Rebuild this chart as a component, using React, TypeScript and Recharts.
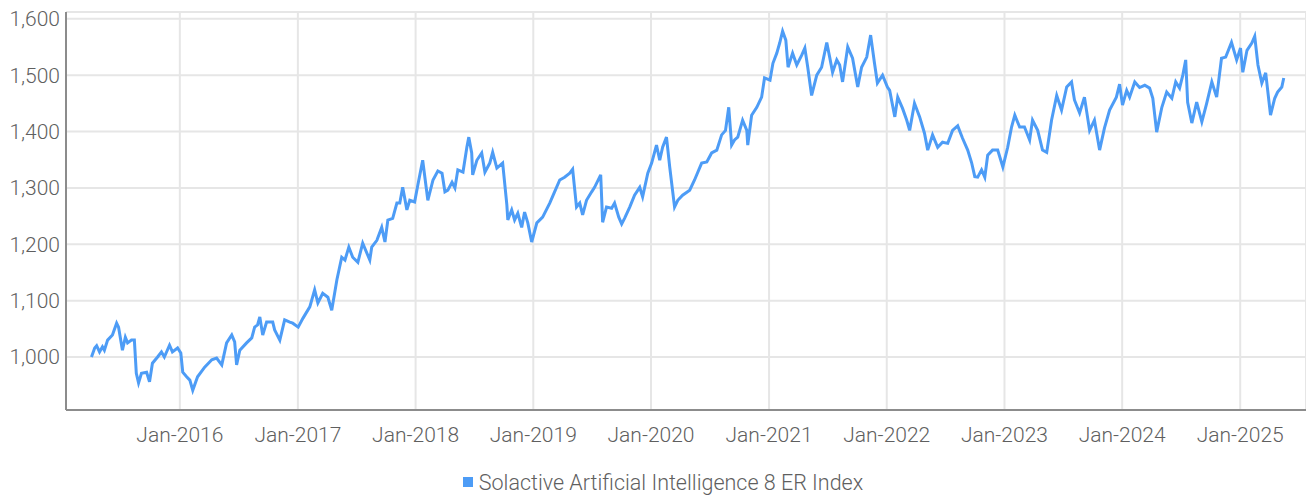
import { LineChart, Line, XAxis, YAxis, CartesianGrid, Legend } from "recharts";

const seriesName = "Solactive Artificial Intelligence 8 ER Index";

// index level, roughly two points a month
const dates = [
  "2015-04-02", "2015-04-12", "2015-04-18", "2015-04-27", "2015-05-06", "2015-05-12", "2015-05-22",
  "2015-06-06", "2015-06-19", "2015-06-25", "2015-07-07", "2015-07-16", "2015-07-23", "2015-08-04",
  "2015-08-13", "2015-08-19", "2015-08-26", "2015-09-04", "2015-09-20", "2015-09-29", "2015-10-08",
  "2015-10-24", "2015-11-05", "2015-11-14", "2015-11-30", "2015-12-09", "2015-12-25",
  "2016-01-04", "2016-01-10", "2016-01-22", "2016-02-01", "2016-02-10", "2016-02-25", "2016-03-18",
  "2016-04-09", "2016-04-24", "2016-05-10", "2016-05-25", "2016-06-10", "2016-06-19", "2016-06-25",
  "2016-07-05", "2016-07-26", "2016-08-11", "2016-08-20", "2016-08-29", "2016-09-05", "2016-09-14",
  "2016-09-26", "2016-10-15", "2016-10-21", "2016-11-06", "2016-11-21", "2016-12-07", "2016-12-16",
  "2017-01-02", "2017-01-17", "2017-02-07", "2017-02-22", "2017-03-04", "2017-03-19", "2017-04-04",
  "2017-04-16", "2017-05-02", "2017-05-17", "2017-05-27", "2017-06-08", "2017-06-20", "2017-07-06",
  "2017-07-21", "2017-08-12", "2017-08-18", "2017-09-03", "2017-09-18", "2017-09-28", "2017-10-07",
  "2017-10-22", "2017-11-04", "2017-11-13", "2017-11-22", "2017-12-05", "2017-12-14", "2017-12-29",
  "2018-01-08", "2018-01-23", "2018-02-08", "2018-02-24", "2018-03-11", "2018-03-24", "2018-04-02",
  "2018-04-11", "2018-04-24", "2018-05-03", "2018-05-12", "2018-05-28", "2018-06-09", "2018-06-15",
  "2018-06-24", "2018-06-27", "2018-07-10", "2018-07-25", "2018-08-04", "2018-08-19", "2018-08-28",
  "2018-09-10", "2018-09-28", "2018-10-11", "2018-10-14", "2018-10-26", "2018-11-04", "2018-11-14",
  "2018-11-26", "2018-12-05", "2018-12-15", "2018-12-27",
  "2019-01-12", "2019-01-30", "2019-02-21", "2019-03-08", "2019-03-24", "2019-04-08", "2019-04-24",
  "2019-05-03", "2019-05-15", "2019-05-25", "2019-06-03", "2019-06-15", "2019-07-01", "2019-07-10",
  "2019-07-29", "2019-08-04", "2019-08-16", "2019-09-01", "2019-09-10", "2019-09-23", "2019-10-02",
  "2019-10-11", "2019-10-27", "2019-11-11", "2019-11-27", "2019-12-06", "2019-12-22",
  "2020-01-03", "2020-01-18", "2020-01-28", "2020-02-06", "2020-02-18", "2020-02-28", "2020-03-14",
  "2020-03-24", "2020-04-08", "2020-04-30", "2020-05-15", "2020-06-06", "2020-06-22", "2020-07-07",
  "2020-07-23", "2020-08-07", "2020-08-19", "2020-08-29", "2020-09-07", "2020-09-16", "2020-09-26",
  "2020-10-11", "2020-10-24", "2020-10-27", "2020-11-08", "2020-11-24", "2020-12-09", "2020-12-18",
  "2021-01-04", "2021-01-13", "2021-01-25", "2021-02-03", "2021-02-12", "2021-02-22", "2021-03-01",
  "2021-03-15", "2021-03-28", "2021-04-12", "2021-04-22", "2021-05-01", "2021-05-13", "2021-05-29",
  "2021-06-13", "2021-06-29", "2021-07-08", "2021-07-17", "2021-07-30", "2021-08-08", "2021-08-17",
  "2021-09-02", "2021-09-17", "2021-10-03", "2021-10-15", "2021-10-31", "2021-11-12", "2021-11-24",
  "2021-12-03", "2021-12-19",
  "2022-01-03", "2022-01-10", "2022-01-26", "2022-02-04", "2022-02-19", "2022-03-04", "2022-03-13",
  "2022-03-28", "2022-04-13", "2022-04-28", "2022-05-08", "2022-05-23", "2022-06-08", "2022-06-23",
  "2022-07-09", "2022-07-24", "2022-08-09", "2022-08-24", "2022-09-09", "2022-09-21", "2022-10-01",
  "2022-10-10", "2022-10-22", "2022-11-01", "2022-11-10", "2022-11-25", "2022-12-11", "2022-12-27",
  "2023-01-11", "2023-01-23", "2023-02-02", "2023-02-17", "2023-03-04", "2023-03-20", "2023-03-29",
  "2023-04-14", "2023-04-29", "2023-05-12", "2023-05-27", "2023-06-12", "2023-06-27", "2023-07-13",
  "2023-07-28", "2023-08-06", "2023-08-22", "2023-09-06", "2023-09-22", "2023-10-07", "2023-10-23",
  "2023-11-07", "2023-11-23", "2023-12-14", "2023-12-24",
  "2024-01-02", "2024-01-15", "2024-01-24", "2024-02-09", "2024-02-24", "2024-03-11", "2024-03-26",
  "2024-04-05", "2024-04-17", "2024-05-03", "2024-05-18", "2024-06-03", "2024-06-15", "2024-06-27",
  "2024-07-07", "2024-07-16", "2024-07-22", "2024-08-04", "2024-08-19", "2024-09-04", "2024-09-19",
  "2024-10-05", "2024-10-20", "2024-11-04", "2024-11-17", "2024-12-05", "2024-12-21",
  "2025-01-02", "2025-01-09", "2025-01-22", "2025-02-06", "2025-02-15", "2025-02-25", "2025-03-09",
  "2025-03-21", "2025-04-05", "2025-04-18", "2025-04-27", "2025-05-10", "2025-05-16",
];

const values = [
  1000, 1016, 1020, 1009, 1018, 1012, 1030,
  1039, 1060, 1053, 1012, 1035, 1025, 1030,
  1030, 971, 954, 971, 973, 956, 989,
  1000, 1009, 1000, 1021, 1009, 1016,
  1007, 973, 965, 959, 941, 965, 982,
  995, 998, 986, 1025, 1039, 1027, 986,
  1012, 1025, 1034, 1053, 1057, 1071, 1039,
  1062, 1062, 1048, 1030, 1066, 1062, 1060,
  1053, 1069, 1089, 1119, 1096, 1113, 1106,
  1083, 1137, 1177, 1172, 1195, 1177, 1168,
  1202, 1172, 1195, 1207, 1230, 1204, 1243,
  1246, 1273, 1273, 1301, 1261, 1278, 1275,
  1305, 1349, 1278, 1314, 1330, 1326, 1293,
  1296, 1310, 1300, 1332, 1328, 1372, 1390,
  1362, 1323, 1349, 1362, 1328, 1344, 1363,
  1335, 1344, 1270, 1243, 1261, 1243, 1255,
  1230, 1257, 1238, 1204,
  1238, 1248, 1273, 1293, 1314, 1319, 1326,
  1333, 1266, 1273, 1252, 1278, 1293, 1301,
  1323, 1239, 1266, 1264, 1273, 1248, 1236,
  1246, 1266, 1287, 1301, 1284, 1326,
  1344, 1376, 1349, 1372, 1390, 1337, 1266,
  1278, 1287, 1296, 1314, 1344, 1346, 1362,
  1367, 1394, 1402, 1443, 1376, 1385, 1390,
  1420, 1402, 1376, 1429, 1443, 1461, 1495,
  1491, 1521, 1539, 1557, 1578, 1562, 1514,
  1539, 1518, 1535, 1548, 1514, 1464, 1500,
  1514, 1558, 1532, 1505, 1527, 1518, 1488,
  1550, 1530, 1479, 1514, 1532, 1571, 1521,
  1486, 1500,
  1479, 1473, 1426, 1461, 1441, 1420, 1402,
  1450, 1426, 1397, 1367, 1394, 1372, 1381,
  1379, 1402, 1410, 1388, 1367, 1345, 1320,
  1319, 1332, 1319, 1358, 1367, 1367, 1337,
  1372, 1408, 1429, 1408, 1408, 1385, 1420,
  1402, 1367, 1363, 1420, 1464, 1438, 1479,
  1488, 1456, 1433, 1461, 1402, 1420, 1367,
  1406, 1438, 1461, 1484,
  1447, 1473, 1461, 1488, 1478, 1482, 1477,
  1459, 1399, 1443, 1470, 1459, 1488, 1477,
  1500, 1527, 1452, 1415, 1452, 1417, 1450,
  1488, 1461, 1530, 1532, 1558, 1527,
  1548, 1505, 1544, 1557, 1569, 1518, 1486,
  1504, 1429, 1459, 1470, 1479, 1495,
];

const yTicks = [1000, 1100, 1200, 1300, 1400, 1500, 1600];
const tickYears = [2016, 2017, 2018, 2019, 2020, 2021, 2022, 2023, 2024, 2025];

const LINE_COLOR = "#4d9cf6";
const FONT = "Roboto, 'Liberation Sans', sans-serif";
const TEXT_COLOR = "#5f5f5f";

const toTime = (d: string) => new Date(d + "T00:00:00Z").getTime();
const chartData = dates.map((d, i) => ({ t: toTime(d), value: values[i] }));
const xTicks = tickYears.map((y) => Date.UTC(y, 0, 1));
const xDomain = [Date.UTC(2015, 0, 13), Date.UTC(2025, 6, 24)];

const formatDate = (t: number) => `Jan-${new Date(t).getUTCFullYear()}`;
const formatValue = (v: number) => v.toLocaleString("en-US");

const renderLegend = () => (
  <div
    style={{
      height: 44,
      display: "flex",
      justifyContent: "center",
      alignItems: "center",
      paddingTop: 16,
      paddingLeft: 20,
      boxSizing: "border-box",
      fontFamily: FONT,
      fontWeight: 300,
      fontSize: 21.5,
      color: TEXT_COLOR,
    }}
  >
    <span style={{ width: 10, height: 10, background: LINE_COLOR, marginRight: 6 }} />
    <span>{seriesName}</span>
  </div>
);

const tickStyle = { fill: TEXT_COLOR, fontSize: 21, fontFamily: FONT, fontWeight: 300 };

export default function App() {
  return (
    <div style={{ position: "absolute", left: 0, top: 0, background: "#fff" }}>
      <LineChart
        width={1306}
        height={496}
        data={chartData}
        margin={{ top: 12, right: 0, bottom: 0, left: 0 }}
      >
        <CartesianGrid stroke="#e6e6e6" strokeWidth={2} />
        <XAxis
          dataKey="t"
          type="number"
          domain={xDomain}
          allowDataOverflow
          ticks={xTicks}
          tickFormatter={formatDate}
          height={42}
          tickLine={false}
          tickSize={6}
          tickMargin={11}
          axisLine={{ stroke: "#8c8c8c", strokeWidth: 2 }}
          tick={tickStyle}
        />
        <YAxis
          domain={[906, 1612]}
          allowDataOverflow
          ticks={yTicks}
          tickFormatter={formatValue}
          width={66}
          tickLine={false}
          tickSize={4}
          tickMargin={2}
          axisLine={{ stroke: "#8c8c8c", strokeWidth: 2 }}
          tick={tickStyle}
        />
        <Legend verticalAlign="bottom" content={renderLegend} />
        <Line
          type="linear"
          dataKey="value"
          name={seriesName}
          stroke={LINE_COLOR}
          strokeWidth={3}
          dot={false}
          isAnimationActive={false}
        />
      </LineChart>
    </div>
  );
}
